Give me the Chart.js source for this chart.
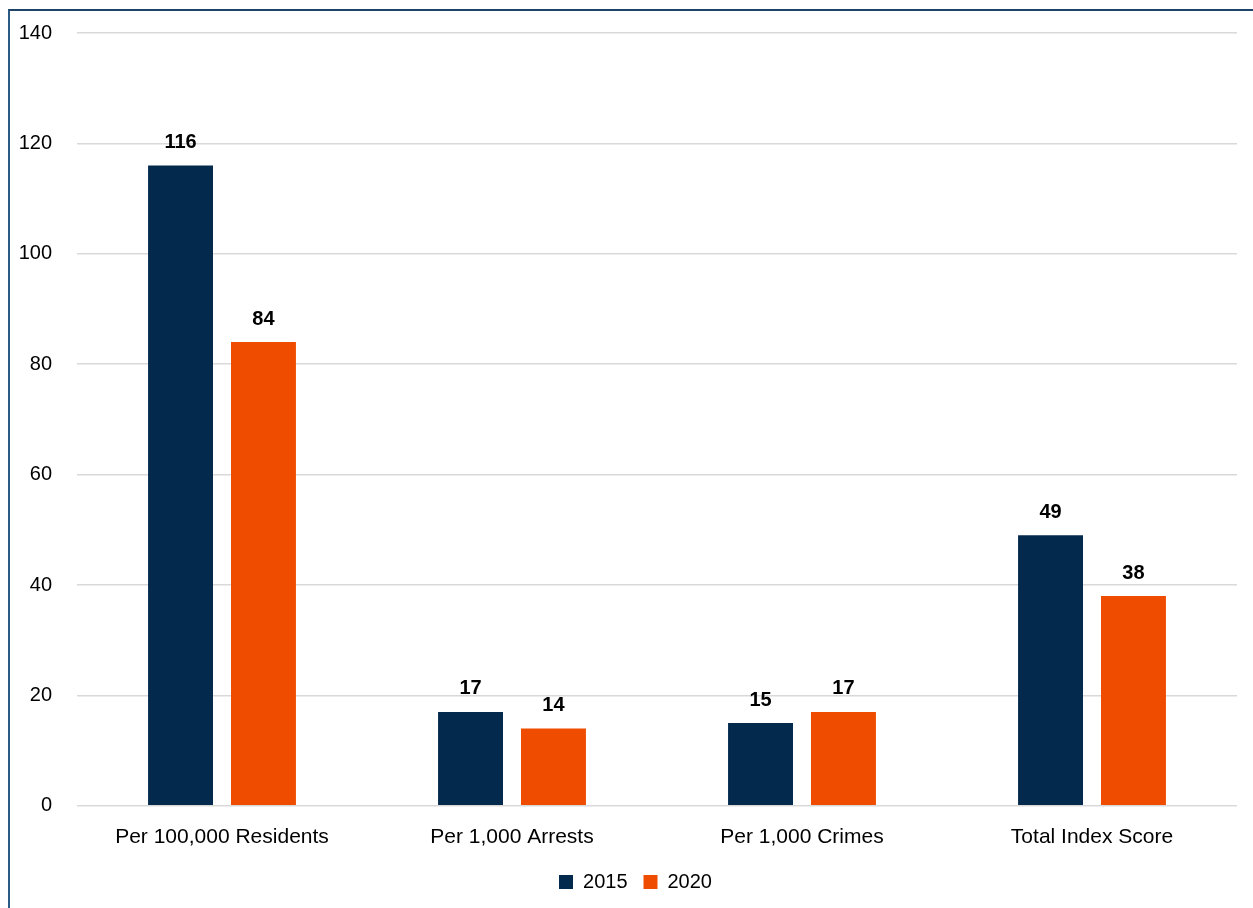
<!DOCTYPE html>
<html>
<head>
<meta charset="utf-8">
<script src="https://cdn.jsdelivr.net/npm/chart.js@4.4.0/dist/chart.umd.min.js"></script>
<style>
    body { margin: 0; background: #fff; }
    .frame {
        position: absolute; left: 8px; top: 9px; right: 0; bottom: 0;
        border-left: 2px solid #2b5b84; border-top: 2px solid #1d4468;
    }
    .rateChart { position: absolute; left: 0; top: 0; }
</style>
</head>
<body>
<div class="frame"></div>
<canvas class="rateChart" width="1253" height="908"></canvas>
<script>
const categories = ['Per 100,000 Residents', 'Per 1,000 Arrests', 'Per 1,000 Crimes', 'Total Index Score'];
const values2015 = [116, 17, 15, 49];
const values2020 = [84, 14, 17, 38];
const yTicks = [0, 20, 40, 60, 80, 100, 120, 140];

const fontFamily = '"Liberation Sans", Arial, sans-serif';

// draw the numbers above each bar
const barLabels = {
    id: 'barLabels',
    afterDatasetsDraw: (chart) => {
        const ctx = chart.ctx;
        ctx.save();
        ctx.font = 'bold 20px ' + fontFamily;
        ctx.fillStyle = '#000';
        ctx.textAlign = 'center';
        ctx.textBaseline = 'bottom';
        chart.data.datasets.forEach((ds, i) => {
            chart.getDatasetMeta(i).data.forEach((bar, j) => {
                ctx.fillText(ds.data[j], bar.x, bar.y - 13);
            });
        });
        ctx.restore();
    }
};

// legend sits a little right of the canvas centre in the original
const nudgeLegend = {
    id: 'nudgeLegend',
    afterLayout: (chart) => {
        chart.legend.left += 12;
        chart.legend.right += 12;
    }
};

const ctx = document.querySelector('.rateChart');
const rateChart = new Chart(ctx, {
    type: 'bar',
    data: {
        labels: categories,
        datasets: [{
            label: '2015',
            data: values2015,
            backgroundColor: '#03294d'
        }, {
            label: '2020',
            data: values2020,
            backgroundColor: '#ef4c00'
        }]
    },
    options: {
        responsive: false,
        animation: false,
        categoryPercentage: 0.572,
        barPercentage: 0.783,
        layout: {
            padding: { left: 10, right: 16, top: 33, bottom: 6 }
        },
        plugins: {
            legend: {
                position: 'bottom',
                labels: {
                    color: '#000',
                    boxWidth: 14,
                    boxHeight: 14,
                    padding: 16,
                    font: { size: 20, family: fontFamily }
                }
            },
            tooltip: { enabled: false }
        },
        scales: {
            x: {
                grid: { display: false, drawTicks: false },
                border: { display: false },
                afterFit: (axis) => {
                    axis.height -= 13;
                },
                ticks: {
                    color: '#000',
                    padding: 19,
                    font: { size: 21, family: fontFamily }
                }
            },
            y: {
                min: 0,
                max: 140,
                afterBuildTicks: (axis) => {
                    axis.ticks = yTicks.map(v => ({ value: v }));
                },
                afterFit: (axis) => {
                    axis.width = 67;
                    axis.paddingTop = 0;
                    axis.paddingBottom = 0;
                },
                grid: { color: '#d9d9d9', lineWidth: 1.5, drawTicks: false },
                border: { display: false },
                ticks: {
                    color: '#000',
                    padding: 25,
                    font: { size: 20, family: fontFamily }
                }
            }
        }
    },
    plugins: [barLabels, nudgeLegend]
});
</script>
</body>
</html>
